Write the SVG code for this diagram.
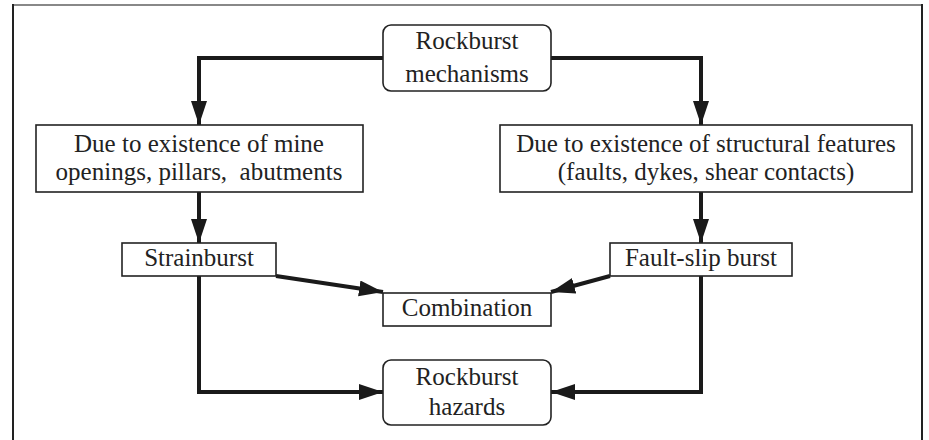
<svg xmlns="http://www.w3.org/2000/svg" width="929" height="440" viewBox="0 0 929 440">
<style>
  .box{fill:#fff;stroke:#222;stroke-width:1.6}
  .t{font-family:"Liberation Serif","Times New Roman",serif;font-size:25px;fill:#222;text-anchor:middle}
  .c{fill:none;stroke:#1a1a1a;stroke-width:4;stroke-linejoin:miter}
</style>
<defs>
  <marker id="ah" markerUnits="userSpaceOnUse" markerWidth="25" markerHeight="17" refX="24" refY="8" orient="auto">
    <path d="M0,0 L24,8 L0,16 Z" fill="#1a1a1a"/>
  </marker>
</defs>
<rect width="929" height="440" fill="#fff"/>
<g id="frame">
  <line x1="13" y1="5" x2="922" y2="5" stroke="#888" stroke-width="2"/>
  <line x1="13" y1="4" x2="13" y2="440" stroke="#222" stroke-width="2"/>
  <line x1="922" y1="4" x2="922" y2="440" stroke="#222" stroke-width="2"/>
</g>
<g id="connectors">
  <path class="c" d="M383,58 H199 V125" marker-end="url(#ah)"/>
  <path class="c" d="M551,58 H701 V125" marker-end="url(#ah)"/>
  <path class="c" d="M199,192 V243" marker-end="url(#ah)"/>
  <path class="c" d="M701,192 V243" marker-end="url(#ah)"/>
  <path class="c" d="M276,276 L383,292" marker-end="url(#ah)"/>
  <path class="c" d="M610,276 L551,292" marker-end="url(#ah)"/>
  <path class="c" d="M199,276 V392 H383" marker-end="url(#ah)"/>
  <path class="c" d="M701,276 V392 H551" marker-end="url(#ah)"/>
</g>
<g id="mechanisms">
  <rect class="box" x="383" y="25" width="168" height="66" rx="8"/>
  <text class="t" x="467" y="49">Rockburst</text>
  <text class="t" x="467" y="82">mechanisms</text>
</g>
<g id="mine-openings">
  <rect class="box" x="36" y="125" width="327" height="67"/>
  <text class="t" x="199" y="152">Due to existence of mine</text>
  <text class="t" x="199" y="180" xml:space="preserve">openings, pillars,  abutments</text>
</g>
<g id="structural-features">
  <rect class="box" x="500" y="125" width="412" height="67"/>
  <text class="t" x="706" y="152">Due to existence of structural features</text>
  <text class="t" x="706" y="180">(faults, dykes, shear contacts)</text>
</g>
<g id="strainburst">
  <rect class="box" x="122" y="243" width="154" height="33"/>
  <text class="t" x="199" y="266">Strainburst</text>
</g>
<g id="fault-slip">
  <rect class="box" x="610" y="243" width="182" height="33"/>
  <text class="t" x="701" y="266">Fault-slip burst</text>
</g>
<g id="combination">
  <rect class="box" x="383" y="293" width="168" height="33"/>
  <text class="t" x="467" y="316">Combination</text>
</g>
<g id="hazards">
  <rect class="box" x="383" y="360" width="168" height="65" rx="8"/>
  <text class="t" x="467" y="385">Rockburst</text>
  <text class="t" x="467" y="415">hazards</text>
</g>
</svg>
